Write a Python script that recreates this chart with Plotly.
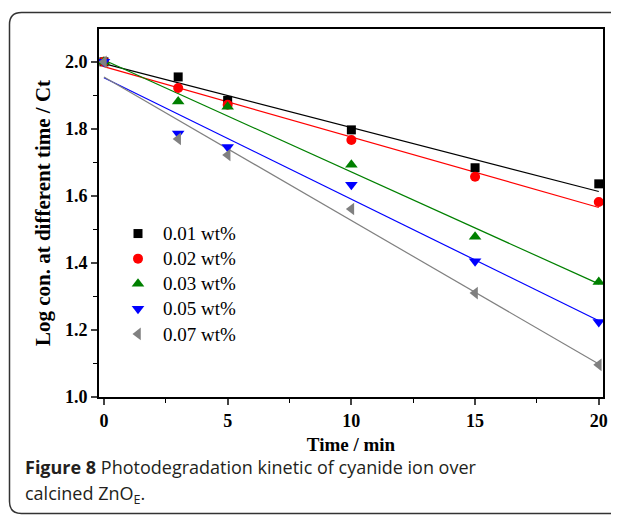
import numpy as np
import plotly.graph_objects as go

time_min = [0, 3, 5, 10, 15, 20]
series_names = ["0.01 wt%", "0.02 wt%", "0.03 wt%", "0.05 wt%", "0.07 wt%"]
y_001 = [2.000, 1.955, 1.885, 1.797, 1.684, 1.636]
y_002 = [2.000, 1.922, 1.872, 1.767, 1.657, 1.582]
y_003 = [2.000, 1.882, 1.866, 1.693, 1.478, 1.343]
y_005 = [2.000, 1.786, 1.746, 1.633, 1.405, 1.224]
y_007 = [2.000, 1.770, 1.722, 1.561, 1.310, 1.096]
series_values = [y_001, y_002, y_003, y_005, y_007]
x_ticks = [0, 5, 10, 15, 20]
y_ticks = [1.0, 1.2, 1.4, 1.6, 1.8, 2.0]

colors = ["#000000", "#ff0000", "#008000", "#0000ff", "#808080"]
symbols = ["square", "circle", "triangle-up", "triangle-down", "triangle-left"]
sizes = [9, 10, 11, 11, 11]

# page body has an 8px margin; size the figure so it fills the window
OFF = 8
W, H = 619 - OFF, 519 - OFF
L, R, T, B = 99 - OFF, 16, 29 - OFF, 122
pw, ph = W - L - R, H - T - B

fig = go.Figure()
xfit = np.array([min(time_min), max(time_min)], dtype=float)
for name, ys, c, s, sz in zip(series_names, series_values, colors, symbols, sizes):
    k, b = np.polyfit(time_min, ys, 1)
    fig.add_trace(go.Scatter(x=xfit, y=k * xfit + b, mode="lines",
                             line=dict(color=c, width=1.2), showlegend=False,
                             hoverinfo="skip"))
for name, ys, c, s, sz in zip(series_names, series_values, colors, symbols, sizes):
    fig.add_trace(go.Scatter(x=time_min, y=ys, mode="markers",
                             name=f"<span style='font-size:19px'>{name}</span>",
                             marker=dict(symbol=s, size=sz, color=c,
                                         line=dict(width=0))))

def px_x(px):
    return (px - OFF - L) / pw

def px_y(py):
    return (H - B - (py - OFF)) / ph

# rounded outer frame
x0, y0, x1, y1, r = 9.5, 12.5, 640, 513.5, 12
path = (f"M {px_x(x0+r)},{px_y(y0)} L {px_x(x1)},{px_y(y0)} "
        f"M {px_x(x1)},{px_y(y1)} L {px_x(x0+r)},{px_y(y1)} "
        f"Q {px_x(x0)},{px_y(y1)} {px_x(x0)},{px_y(y1-r)} "
        f"L {px_x(x0)},{px_y(y0+r)} Q {px_x(x0)},{px_y(y0)} {px_x(x0+r)},{px_y(y0)}")
fig.add_shape(type="path", path=path, xref="paper", yref="paper",
              line=dict(color="#333333", width=1.5), layer="above")

cap_font = dict(family="Open Sans", size=18, color="#231f20")
fig.add_annotation(text="<b>Figure 8</b> Photodegradation kinetic of cyanide ion over",
                   xref="paper", yref="paper", x=px_x(23), y=px_y(467),
                   xanchor="left", yanchor="middle", showarrow=False, font=cap_font)
fig.add_annotation(text="calcined ZnO<sub>E</sub>.",
                   xref="paper", yref="paper", x=px_x(23), y=px_y(494),
                   xanchor="left", yanchor="middle", showarrow=False, font=cap_font)

tick_font = dict(family="Liberation Serif", size=18, color="#000000", weight="bold")
title_font = dict(family="Liberation Serif", size=19, color="#000000", weight="bold")
fig.update_xaxes(range=[-0.2, 20.17], tickvals=x_ticks, ticks="outside", ticklen=6,
                 tickwidth=1.5, showline=True, linewidth=2, linecolor="#000000",
                 mirror=True, showgrid=False, zeroline=False, tickfont=tick_font,
                 title=dict(text="Time / min", standoff=8, font=title_font),
                 minor=dict(tickvals=[2.5, 7.5, 12.5, 17.5], ticks="outside",
                            ticklen=4, tickwidth=1.2, tickcolor="#000"))
fig.update_yaxes(range=[1.0, 2.098], tickvals=y_ticks, tickformat=".1f",
                 ticks="outside", ticklen=6, tickwidth=1.5, showline=True,
                 linewidth=2, linecolor="#000000", mirror=True, showgrid=False,
                 zeroline=False, tickfont=tick_font,
                 title=dict(text="Log con. at different time / Ct", standoff=9,
                            font=dict(title_font, size=21)),
                 minor=dict(tickvals=[1.1, 1.3, 1.5, 1.7, 1.9], ticks="outside",
                            ticklen=4, tickwidth=1.2, tickcolor="#000"))

fig.update_layout(width=W, height=H, margin=dict(l=L, r=R, t=T, b=B, autoexpand=False),
                  plot_bgcolor="white", paper_bgcolor="white",
                  legend=dict(x=px_x(113), y=px_y(216), xanchor="left", yanchor="top",
                              bgcolor="rgba(0,0,0,0)", itemwidth=40,
                              font=dict(family="Liberation Serif", size=17, color="#000"),
                              tracegroupgap=0),
                  showlegend=True)

fig.write_html("out.html")
